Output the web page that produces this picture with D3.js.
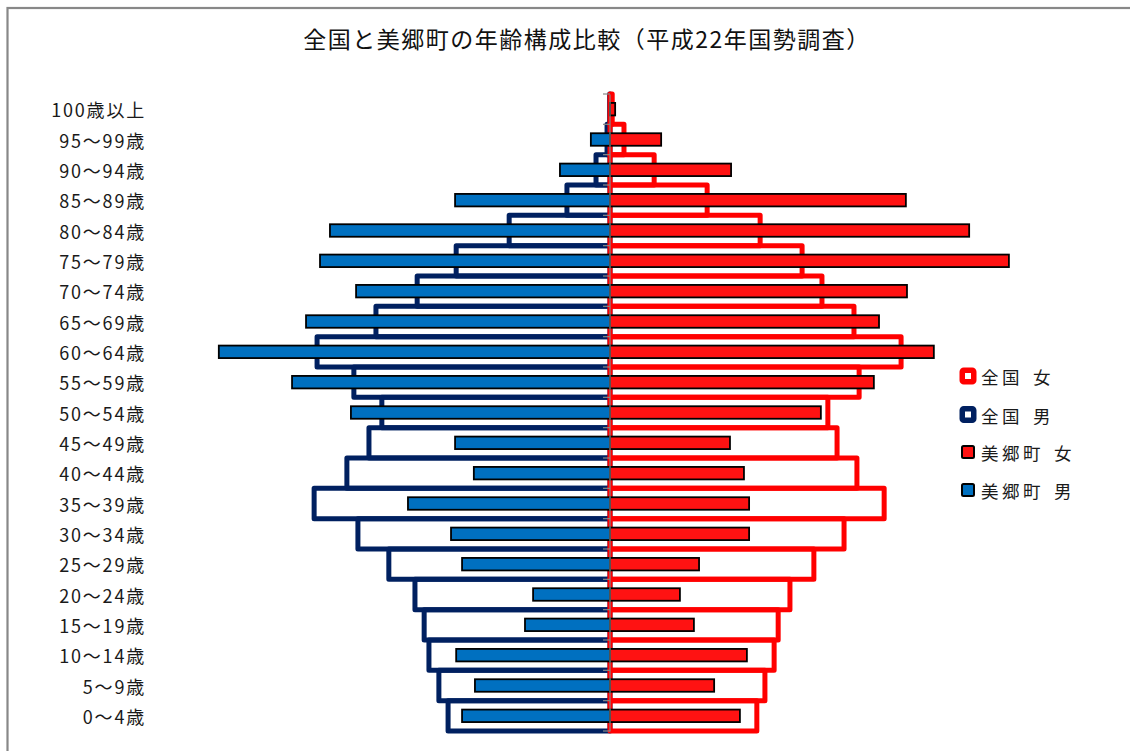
<!DOCTYPE html>
<html lang="ja">
<head>
<meta charset="utf-8">
<script src="https://cdn.jsdelivr.net/npm/d3@7"></script>
<style>
  html, body { margin: 0; padding: 0; background: #fff; }
  svg { display: block; }
  text { font-family: "Noto Sans CJK JP", "Noto Sans", sans-serif; }
</style>
</head>
<body>
<svg id="chart" width="1130" height="751"></svg>
<script>
// Age groups, listed from the oldest (top row) to the youngest (bottom row)
const ageGroups = [
  "100歳以上", "95～99歳", "90～94歳", "85～89歳", "80～84歳", "75～79歳",
  "70～74歳", "65～69歳", "60～64歳", "55～59歳", "50～54歳", "45～49歳",
  "40～44歳", "35～39歳", "30～34歳", "25～29歳", "20～24歳", "15～19歳",
  "10～14歳", "5～9歳", "0～4歳"
];

// Share of each sex's population (%), same order as ageGroups
const nationalMale = [0.01, 0.08, 0.38, 1.17, 2.74, 4.18, 5.24, 6.36, 7.96, 6.96, 6.20,
                      6.55, 7.15, 8.04, 6.85, 6.01, 5.30, 5.05, 4.92, 4.65, 4.40];
const nationalFemale = [0.06, 0.38, 1.20, 2.64, 4.08, 5.22, 5.76, 6.63, 7.91, 6.77, 5.92,
                        6.17, 6.71, 7.45, 6.36, 5.54, 4.89, 4.57, 4.46, 4.21, 3.99];
const townMale = [0.00, 0.52, 1.36, 4.21, 7.61, 7.88, 6.90, 8.26, 10.63, 8.64, 7.04,
                  4.21, 3.70, 5.49, 4.32, 4.02, 2.09, 2.31, 4.18, 3.67, 4.02];
const townFemale = [0.14, 1.39, 3.29, 8.04, 9.76, 10.84, 8.07, 7.31, 8.80, 7.17, 5.73,
                    3.26, 3.64, 3.78, 3.78, 2.42, 1.90, 2.28, 3.72, 2.83, 3.53];

const titleText = "全国と美郷町の年齢構成比較（平成22年国勢調査）";
const legendLabels = ["全国　女", "全国　男", "美郷町　女", "美郷町　男"];

const colors = {
  nationalFemale: "#ff0000",
  nationalMale: "#002060",
  townFemale: "#ff1212",
  townMale: "#0070c0"
};

const svg = d3.select("#chart");

// Chart frame
svg.append("rect")
  .attr("x", 7.5).attr("y", 8)
  .attr("width", 1300).attr("height", 900)
  .attr("fill", "#fff")
  .attr("stroke", "#888").attr("stroke-width", 2.2);

// Title
svg.append("text")
  .attr("x", 587).attr("y", 38)
  .attr("text-anchor", "middle")
  .attr("dominant-baseline", "central")
  .attr("font-size", 23)
  .attr("letter-spacing", 1.5)
  .attr("fill", "#111")
  .text(titleText);

// Scales: negative values go left (male), positive right (female)
const x = d3.scaleLinear()
  .domain([-12, 12])
  .range([610 - 12 * 36.8, 610 + 12 * 36.8]);

const y = d3.scaleBand()
  .domain(ageGroups)
  .range([94, 731])
  .padding(0);

const rows = ageGroups.map((g, i) => ({
  group: g,
  nm: nationalMale[i],
  nf: nationalFemale[i],
  tm: townMale[i],
  tf: townFemale[i]
}));

// National profile: outlined bars that fill the whole band
svg.append("g").selectAll("rect")
  .data(rows).join("rect")
  .attr("x", d => x(-d.nm))
  .attr("y", d => y(d.group))
  .attr("width", d => x(0) - x(-d.nm))
  .attr("height", y.bandwidth())
  .attr("fill", "none")
  .attr("stroke", colors.nationalMale)
  .attr("stroke-width", 5)
  .attr("stroke-linejoin", "round");

svg.append("g").selectAll("rect")
  .data(rows).join("rect")
  .attr("x", x(0))
  .attr("y", d => y(d.group))
  .attr("width", d => x(d.nf) - x(0))
  .attr("height", y.bandwidth())
  .attr("fill", "none")
  .attr("stroke", colors.nationalFemale)
  .attr("stroke-width", 5)
  .attr("stroke-linejoin", "round");

// Town profile: solid bars with a black border
const barH = 12.5;
svg.append("g").selectAll("rect")
  .data(rows.filter(d => d.tm > 0)).join("rect")
  .attr("x", d => x(-d.tm))
  .attr("y", d => y(d.group) + (y.bandwidth() - barH) / 2)
  .attr("width", d => x(0) - x(-d.tm))
  .attr("height", barH)
  .attr("fill", colors.townMale)
  .attr("stroke", "#000")
  .attr("stroke-width", 1.8);

svg.append("g").selectAll("rect")
  .data(rows.filter(d => d.tf > 0)).join("rect")
  .attr("x", x(0))
  .attr("y", d => y(d.group) + (y.bandwidth() - barH) / 2)
  .attr("width", d => x(d.tf) - x(0))
  .attr("height", barH)
  .attr("fill", colors.townFemale)
  .attr("stroke", "#000")
  .attr("stroke-width", 1.8);

// Category axis at zero
const axis = d3.axisLeft(y).tickSize(0).tickPadding(0).tickFormat("");
const axisG = svg.append("g")
  .attr("transform", `translate(${x(0) - 0.5},0)`)
  .call(axis);
axisG.select(".domain").attr("stroke", "#888").attr("stroke-width", 1.2);

// Tick marks on band boundaries
const boundaries = ageGroups.map(g => y(g)).concat([y.range()[1]]);
svg.append("g").selectAll("line")
  .data(boundaries).join("line")
  .attr("x1", x(0) - 7).attr("x2", x(0))
  .attr("y1", d => d).attr("y2", d => d)
  .attr("stroke", "#888").attr("stroke-width", 1.2);

// Category labels
svg.append("g").selectAll("text")
  .data(ageGroups).join("text")
  .attr("x", 146)
  .attr("y", d => y(d) + y.bandwidth() / 2)
  .attr("text-anchor", "end")
  .attr("dominant-baseline", "central")
  .attr("font-size", 18)
  .attr("letter-spacing", 1.8)
  .attr("fill", "#1a1a1a")
  .text(d => d);

// Legend
const legendY = [376, 414.5, 452, 490];
const legendStyles = [
  { fill: "#fff", stroke: colors.nationalFemale, sw: 5.5, size: 11.5 },
  { fill: "#fff", stroke: colors.nationalMale, sw: 5.5, size: 11.5 },
  { fill: colors.townFemale, stroke: "#000", sw: 2, size: 12 },
  { fill: colors.townMale, stroke: "#000", sw: 2, size: 12 }
];
const legend = svg.append("g");
legendLabels.forEach((label, i) => {
  const s = legendStyles[i];
  legend.append("rect")
    .attr("x", 968 - s.size / 2).attr("y", legendY[i] - s.size / 2)
    .attr("width", s.size).attr("height", s.size)
    .attr("rx", 1.5)
    .attr("fill", s.fill)
    .attr("stroke", s.stroke)
    .attr("stroke-width", s.sw);
  const parts = label.split("　");
  const t = legend.append("text")
    .attr("x", 981).attr("y", legendY[i])
    .attr("dominant-baseline", "central")
    .attr("font-size", 17.5)
    .attr("letter-spacing", 3.5)
    .attr("fill", "#1a1a1a");
  t.append("tspan").text(parts[0]);
  t.append("tspan").attr("dx", 10).text(parts[1]);
});
</script>
</body>
</html>
